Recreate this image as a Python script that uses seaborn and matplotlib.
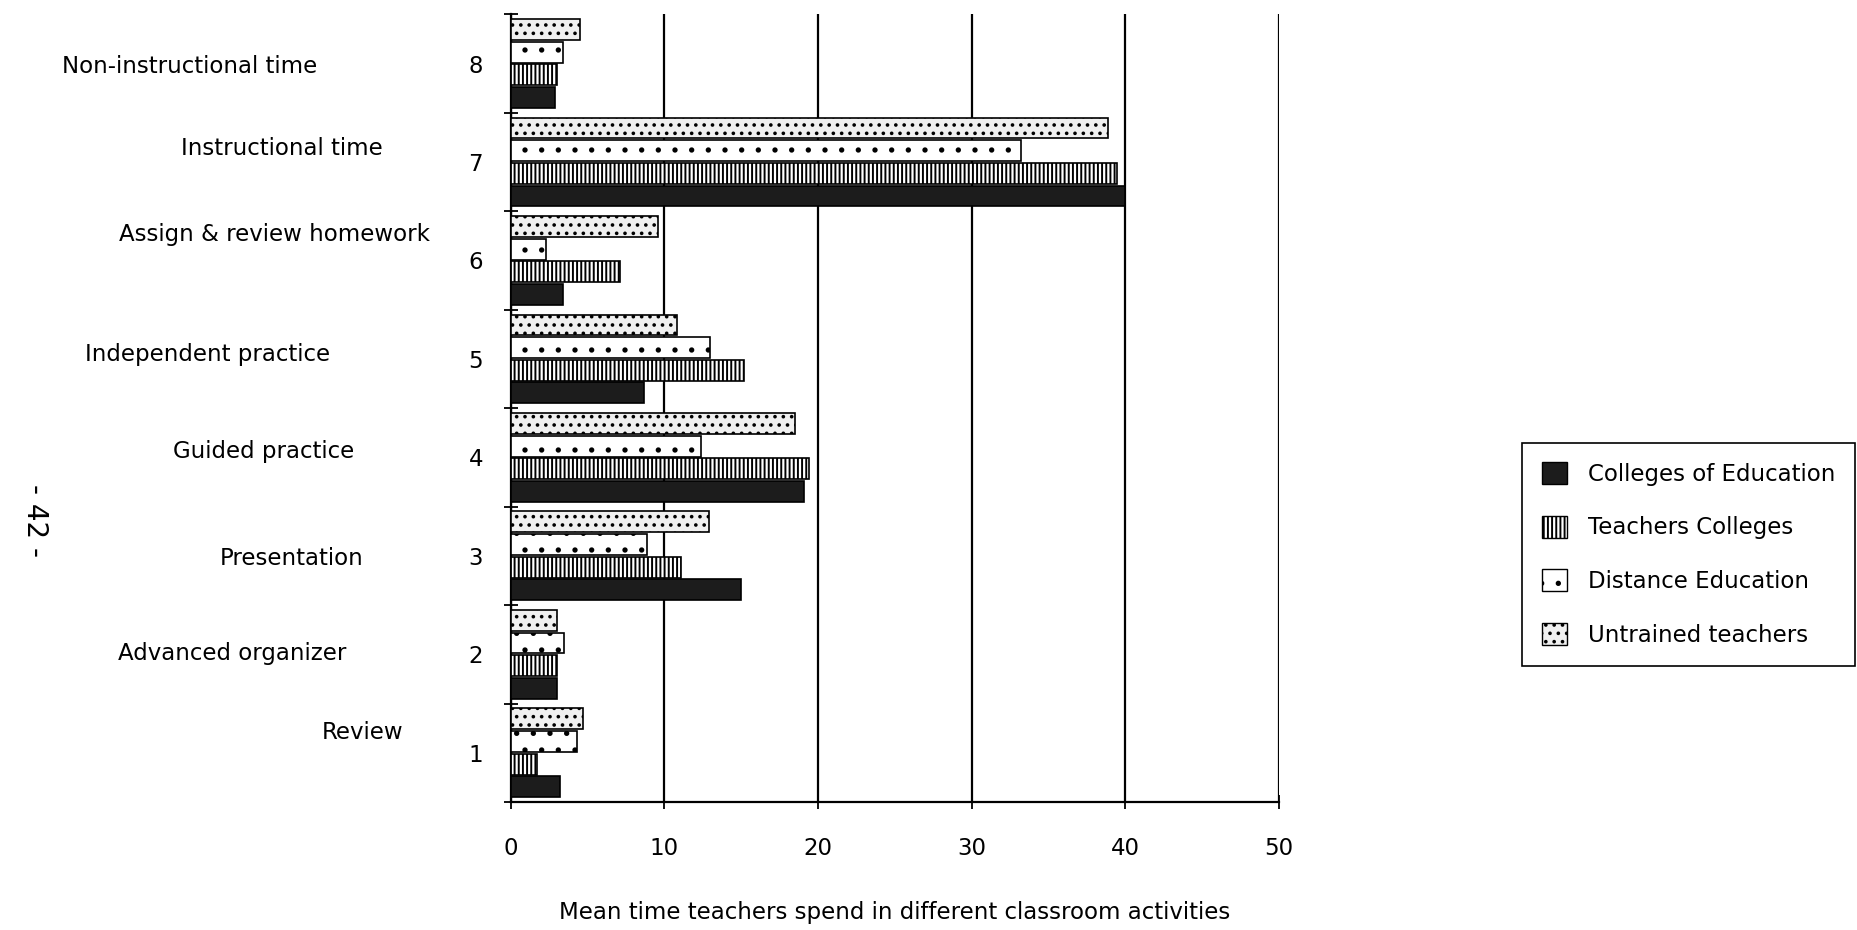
import matplotlib
matplotlib.use("Agg")
import matplotlib.pyplot as plt
import seaborn as sns
import pandas as pd
import numpy as np
from matplotlib.patches import Patch

# ---- data ----
activity_numbers = ["8", "7", "6", "5", "4", "3", "2", "1"]
activity_names = ["Non-instructional time", "Instructional time", "Assign & review homework",
                  "Independent practice", "Guided practice", "Presentation",
                  "Advanced organizer", "Review"]
groups = ["Untrained teachers", "Distance Education", "Teachers Colleges", "Colleges of Education"]
untrained = [4.5, 38.9, 9.6, 10.8, 18.5, 12.9, 3.0, 4.7]
distance = [3.4, 33.2, 2.3, 13.0, 12.4, 8.9, 3.5, 4.3]
teachers = [3.0, 39.5, 7.1, 15.2, 19.4, 11.1, 3.0, 1.7]
colleges = [2.9, 40.0, 3.4, 8.7, 19.1, 15.0, 3.0, 3.2]
x_ticks = [0, 10, 20, 30, 40, 50]
x_label = "Mean time teachers spend in different classroom activities"
legend_order = ["Colleges of Education", "Teachers Colleges", "Distance Education", "Untrained teachers"]

series = {"Untrained teachers": untrained, "Distance Education": distance,
          "Teachers Colleges": teachers, "Colleges of Education": colleges}
rows = []
for g, vals in series.items():
    for a, v in zip(activity_numbers, vals):
        rows.append({"activity": a, "minutes": v, "group": g})
df = pd.DataFrame(rows)

# ---- styles ----
sns.set_theme(style="white")
plt.rcParams["font.family"] = ["DejaVu Sans"]
plt.rcParams["hatch.linewidth"] = 1.4
for k in ["text.color", "axes.labelcolor", "xtick.color", "ytick.color"]:
    plt.rcParams[k] = "black"

FS = 16.5
styles = {
    "Untrained teachers": dict(facecolor="#f0f0f0", hatch=".."),
    "Distance Education": dict(facecolor="white", hatch="."),
    "Teachers Colleges": dict(facecolor="white", hatch="||||"),
    "Colleges of Education": dict(facecolor="#1c1c1c", hatch=None),
}

fig = plt.figure(figsize=(18.57, 9.3), dpi=100)
ax = fig.add_axes([0.275, 0.1376, 0.4136, 0.847])

sns.barplot(data=df, y="activity", x="minutes", hue="group", order=activity_numbers,
            hue_order=groups, orient="h", width=0.92, gap=0.08, edgecolor="black",
            linewidth=1.2, ax=ax, legend=False)

for g, cont in zip(groups, ax.containers):
    for bar in cont:
        bar.set_facecolor(styles[g]["facecolor"])
        bar.set_hatch(styles[g]["hatch"])
        bar.set_edgecolor("black")
        bar.set_zorder(3)

ax.set_xlim(0, 50)
ax.set_ylim(7.5, -0.5)
ax.set_axisbelow(True)
ax.grid(axis="x", color="black", linewidth=1.6)
ax.grid(axis="y", visible=False)
ax.set_xticks(x_ticks)
ax.set_xticklabels([str(t) for t in x_ticks], fontsize=FS)
ax.set_yticks(range(len(activity_numbers)))
ax.set_yticklabels(activity_numbers, fontsize=FS)
ax.set_yticks(np.arange(-0.5, len(activity_numbers), 1), minor=True)
ax.tick_params(axis="y", which="major", length=0, pad=20)
ax.tick_params(axis="y", which="minor", length=10, width=1.3, direction="inout", color="black", left=True)
ax.tick_params(axis="x", length=10, width=1.3, direction="inout", color="black", bottom=True, pad=20)
ax.set_xlabel(x_label, fontsize=FS, labelpad=30)
ax.set_ylabel("")
for s in ["top", "right"]:
    ax.spines[s].set_visible(False)
for s in ["left", "bottom"]:
    ax.spines[s].set_color("black")
    ax.spines[s].set_linewidth(1.6)

# category names at the left
name_pos = [(0.102, 0.928), (0.152, 0.840), (0.148, 0.748), (0.112, 0.619),
            (0.142, 0.515), (0.157, 0.399), (0.125, 0.297), (0.195, 0.212)]
for name, (x, y) in zip(activity_names, name_pos):
    fig.text(x, y, name, ha="center", va="center", fontsize=FS)

# page number
fig.text(0.019, 0.44, "- 42 -", rotation=-90, ha="center", va="center", fontsize=20)

handles = [Patch(facecolor=styles[g]["facecolor"], hatch=styles[g]["hatch"], edgecolor="black")
           for g in legend_order]
leg = fig.legend(handles, legend_order, loc="center left", bbox_to_anchor=(0.8137, 0.404),
                 frameon=True, fancybox=False, edgecolor="black", framealpha=1, fontsize=FS,
                 handlelength=1.1, handleheight=1.1, labelspacing=1.3, borderpad=0.85,
                 handletextpad=0.9)
leg.get_frame().set_linewidth(1.2)

fig.savefig("out.png", dpi=100)
